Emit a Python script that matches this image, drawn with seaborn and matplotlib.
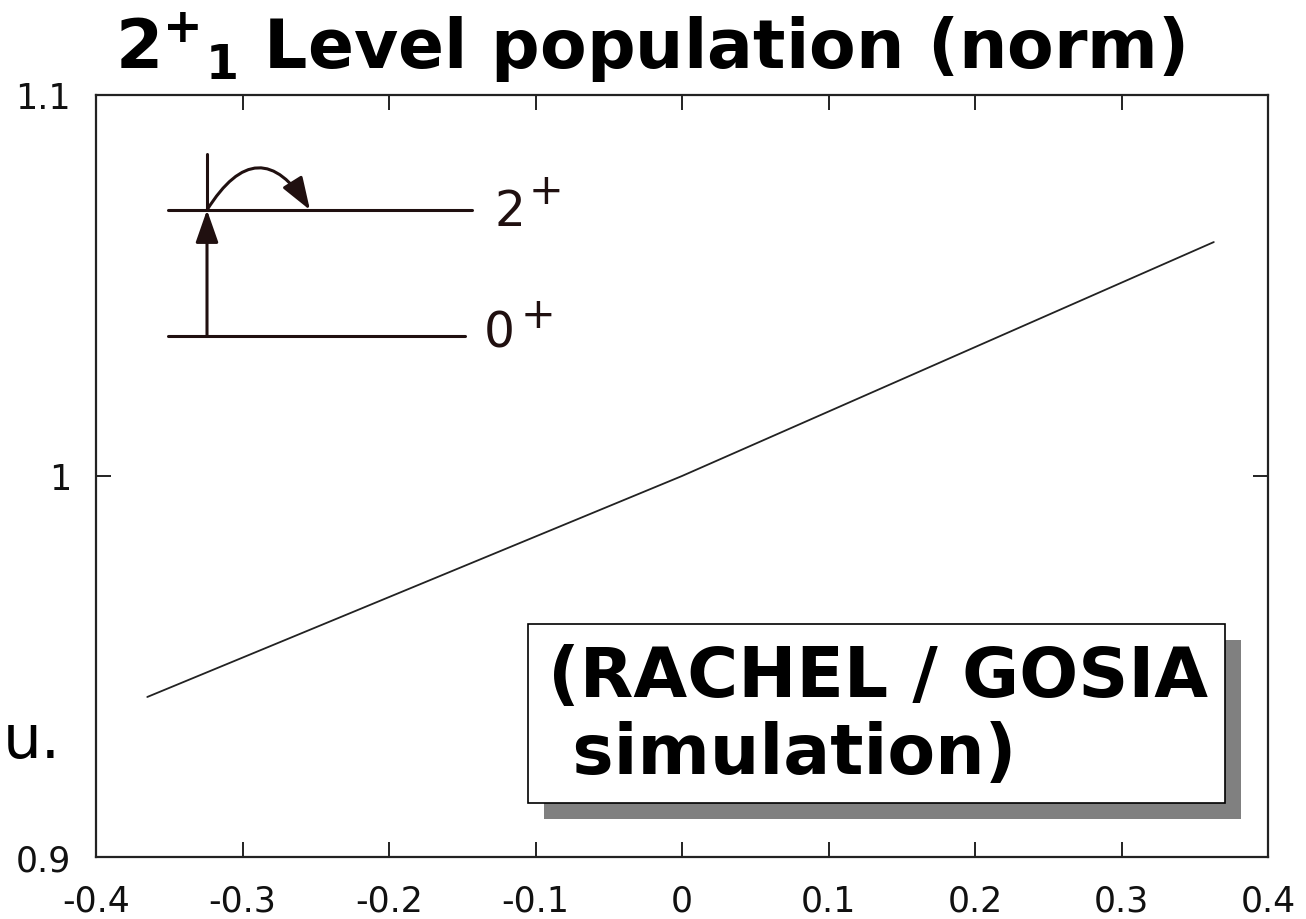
import matplotlib
matplotlib.use("Agg")
import matplotlib.pyplot as plt
import seaborn as sns
import pandas as pd
from matplotlib.patches import Rectangle, FancyArrowPatch

# ---- data ----
x_vals = [-0.365, 0.0, 0.363]
y_vals = [0.942, 1.0, 1.0614]
x_ticks = [-0.4, -0.3, -0.2, -0.1, 0, 0.1, 0.2, 0.3, 0.4]
x_ticklabels = ["-0.4", "-0.3", "-0.2", "-0.1", "0", "0.1", "0.2", "0.3", "0.4"]
y_ticks = [0.9, 1.0, 1.1]
y_ticklabels = ["0.9", "1", "1.1"]
title_text = r"$\mathbf{2^{+}{}_{1}}$ Level population (norm)"
box_text = "(RACHEL / GOSIA\n simulation)"
level_names = ["2", "0"]
level_parity = ["+", "+"]

sns.set_theme(style="ticks")
plt.rcParams["font.family"] = ["DejaVu Sans"]
plt.rcParams["mathtext.fontset"] = "dejavusans"
plt.rcParams["text.color"] = "black"

fig = plt.figure(figsize=(13.06, 9.2), dpi=100)
ax = fig.add_axes([96/1306, 1-858/920, (1268-96)/1306, (858-96)/920])

df = pd.DataFrame({"x": x_vals, "y": y_vals})
sns.lineplot(data=df, x="x", y="y", ax=ax, color="#222222", linewidth=1.3)

ax.set_xlim(-0.4, 0.4)
ax.set_ylim(0.9, 1.1)
ax.set_xticks(x_ticks)
ax.set_xticklabels(x_ticklabels)
ax.set_yticks(y_ticks)
ax.set_yticklabels(y_ticklabels)
ax.set_xlabel("")
ax.set_ylabel("")
ax.tick_params(direction="in", length=11, width=1.4, labelsize=25,
               top=True, right=True, color="#222222", labelcolor="#111111")
ax.tick_params(axis="x", pad=19)
ax.tick_params(axis="y", pad=18)
for s in ax.spines.values():
    s.set_linewidth(1.6)
    s.set_color("#222222")

# ---- level scheme inset (axes fraction) ----
def fx(px):
    return (px - 96) / 1172
def fy(py):
    return (858 - py) / 762

dc = "#201010"
T = ax.transAxes
ax.plot([fx(168), fx(472)], [fy(211), fy(211)], color=dc, lw=2.2, transform=T)
ax.plot([fx(168), fx(465)], [fy(337), fy(337)], color=dc, lw=2.2, transform=T)
ax.plot([fx(207), fx(207)], [fy(211), fy(155)], color=dc, lw=2.2, transform=T)
ax.add_patch(FancyArrowPatch((fx(207), fy(337)), (fx(207), fy(211)), transform=T,
                             arrowstyle="-|>,head_length=20,head_width=7",
                             color=dc, lw=2.2, shrinkA=0, shrinkB=0))
ax.add_patch(FancyArrowPatch((fx(207), fy(211)), (fx(310), fy(211)), transform=T,
                             connectionstyle="arc3,rad=-0.8",
                             arrowstyle="-|>,head_length=20,head_width=7",
                             color=dc, lw=2.2, shrinkA=0, shrinkB=0))
ax.text(fx(495), fy(226), level_names[0], transform=T, fontsize=35,
        va="baseline", ha="left", color=dc)
ax.text(fx(546), fy(192), level_parity[0], transform=T, fontsize=30,
        va="center", ha="center", color=dc)
ax.text(fx(484), fy(348), level_names[1], transform=T, fontsize=35,
        va="baseline", ha="left", color=dc)
ax.text(fx(538), fy(316), level_parity[1], transform=T, fontsize=30,
        va="center", ha="center", color=dc)

# ---- text box with shadow ----
bx0, bx1, by0, by1 = 528, 1225, 625, 804
off = 16
ax.add_patch(Rectangle((fx(bx0 + off), fy(by1 + off)), fx(bx1) - fx(bx0), fy(by0) - fy(by1),
                       transform=T, facecolor="#808080", edgecolor="none", zorder=4))
ax.add_patch(Rectangle((fx(bx0), fy(by1)), fx(bx1) - fx(bx0), fy(by0) - fy(by1),
                       transform=T, facecolor="white", edgecolor="black", lw=1.2, zorder=5))
ax.text(fx(548), fy(716), box_text, transform=T, fontsize=50, fontweight="bold",
        va="center", ha="left", linespacing=1.17, zorder=6, color="black")

# ---- title and clipped label ----
fig.text(0.4977, 1 - 68/920, title_text, fontsize=49, fontweight="bold",
         ha="center", va="baseline", color="black")
fig.text(0.002, 1 - 758/920, "u.", fontsize=44, ha="left", va="baseline", color="black")

fig.savefig("out.png", dpi=100)
